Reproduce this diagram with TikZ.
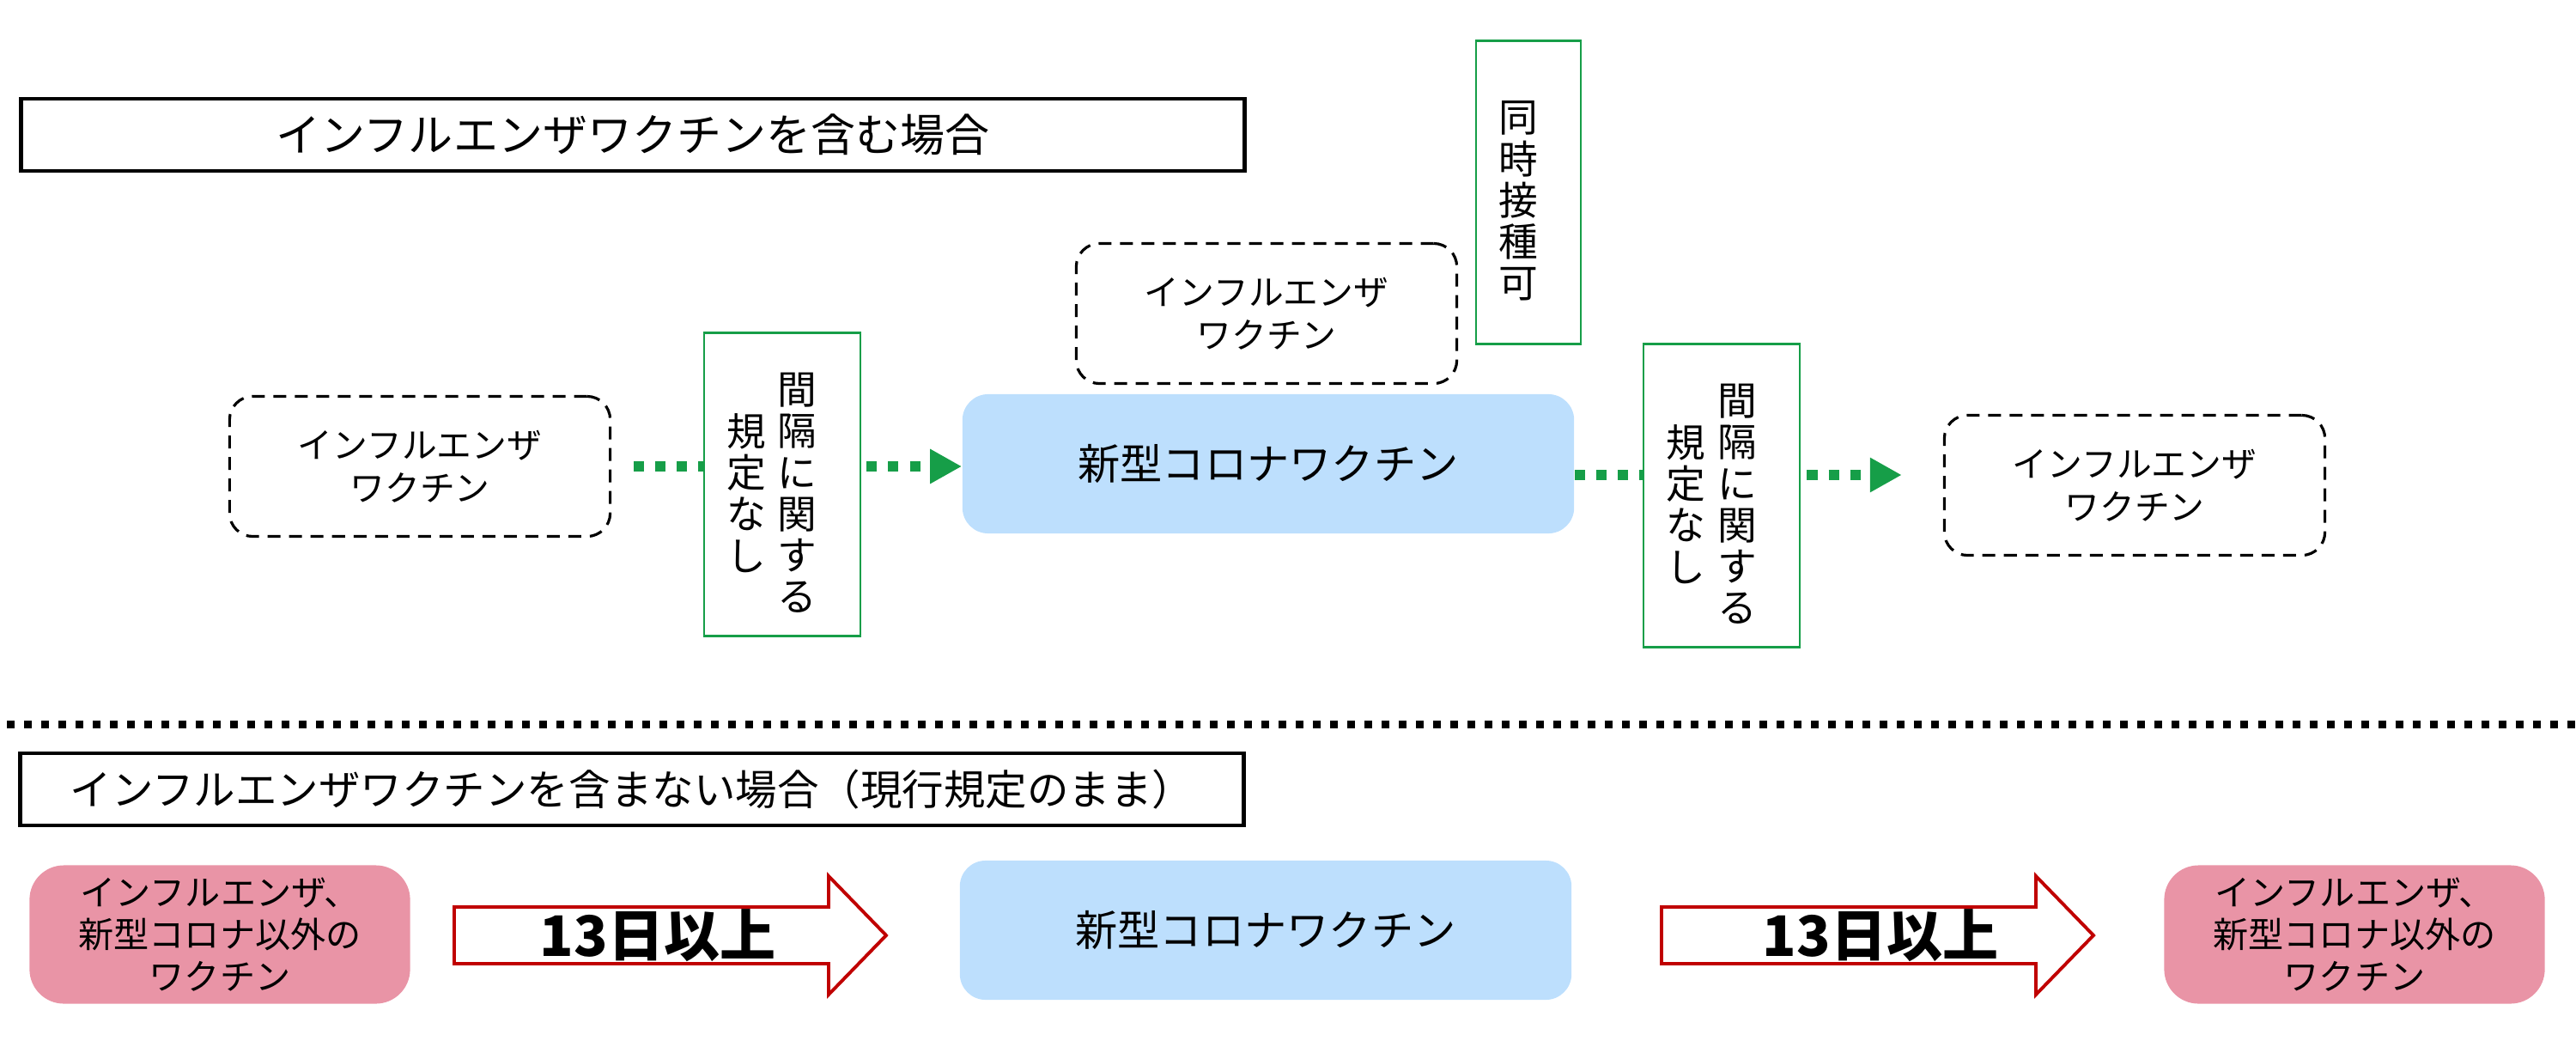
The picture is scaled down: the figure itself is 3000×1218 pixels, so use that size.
\documentclass[tikz,border=0pt]{standalone}
\usepackage{fontspec}
\setmainfont{Noto Sans CJK JP}
\usetikzlibrary{arrows.meta,calc}

\definecolor{kgreen}{RGB}{22,158,72}
\definecolor{kblue}{RGB}{189,223,253}
\definecolor{kpink}{RGB}{233,148,166}
\definecolor{kred}{RGB}{192,0,0}

\begin{document}
\begin{tikzpicture}[x=0.01cm,y=-0.01cm]
   \useasboundingbox (0,0) rectangle (3000,1218);
   \tikzstyle{heading}=[draw=black, line width=1.2pt, minimum width=14.24cm, minimum height=0.84cm, inner sep=0pt]
   \tikzstyle{flu}=[draw=black, line width=0.9pt, dash pattern=on 0.15cm off 0.10cm, rounded corners=0.27cm, minimum width=4.43cm, minimum height=1.63cm, align=center, font=\fontsize{11.6}{14.2}\selectfont]
   \tikzstyle{corona}=[fill=kblue, rounded corners=0.3cm, minimum width=7.12cm, minimum height=1.62cm, font=\fontsize{14}{16}\selectfont]
   \tikzstyle{gapbox}=[draw=kgreen, line width=0.8pt, minimum width=1.82cm, minimum height=3.53cm]
   \tikzstyle{tate}=[align=center, inner sep=0pt, font=\fontsize{13}{13.7}\selectfont]
   \tikzstyle{other}=[fill=kpink, rounded corners=0.4cm, minimum width=4.43cm, minimum height=1.61cm, align=center, font=\fontsize{11.7}{14}\selectfont]
   \tikzstyle{dotline}=[draw=kgreen, line width=0.12cm, dash pattern=on 0.12cm off 0.13cm]
   \tikzstyle{bigarrow}=[draw=kred, line width=1.1pt, fill=white]

   % upper half
   \node[heading] (with) at (737,157) {\fontsize{14.8}{18}\selectfont インフルエンザワクチンを含む場合};
   \foreach \n/\x/\y in {flu1/489/543, flu2/1475/365, flu3/2486/565} {
       \node[flu] (\n) at (\x,\y) {インフルエンザ\\ワクチン};
   }
   \node[corona] (corona1) at (1477,540) {新型コロナワクチン};
   \node[gapbox] (gap1) at (911,564) {};
   \node[tate] (gap1r) at ($(gap1.center)+(17,10)$) {間\\隔\\に\\関\\す\\る};
   \node[tate] (gap1l) at ($(gap1.center)+(-42,10)$) {規\\定\\な\\し};
   \node[gapbox] (gap2) at (2005,577) {};
   \node[tate] (gap2r) at ($(gap2.center)+(18,10)$) {間\\隔\\に\\関\\す\\る};
   \node[tate] (gap2l) at ($(gap2.center)+(-42,10)$) {規\\定\\な\\し};
   \node[gapbox, minimum width=1.22cm, minimum height=3.52cm] (simul) at (1780,224) {};
   \node[tate] (simultext) at ($(simul.center)+(-12,10)$) {同\\時\\接\\種\\可};

   \coordinate (rowB) at (0,553);
   \draw[dotline, shorten <=0.26cm] (flu1.east) -- (gap1.west |- flu1.east);
   \draw[dotline, shorten <=0.06cm, -{Triangle[length=0.37cm,width=0.38cm]}] (gap1.east |- flu1.east) -- (corona1.west |- flu1.east);
   \draw[dotline] (corona1.east |- rowB) -- (gap2.west |- rowB);
   \draw[dotline, shorten <=0.07cm, shorten >=0.48cm, -{Triangle[length=0.37cm,width=0.38cm]}] (gap2.east |- rowB) -- (flu3.west |- rowB);

   % separator
   \draw[line width=0.09cm, dash pattern=on 0.09cm off 0.11cm] (8,843) -- (3000,843);

   % lower half
   \node[heading] (without) at (736,919) {\fontsize{13.8}{17}\selectfont インフルエンザワクチンを含まない場合（現行規定のまま）};
   \foreach \n/\x in {other1/256, other2/2742} {
       \node[other] (\n) at (\x,1088) {インフルエンザ、\\新型コロナ以外の\\ワクチン};
   }
   \node[corona] (corona2) at (1474,1083) {新型コロナワクチン};
   \foreach \x/\t/\n in {529/766/days1, 1935/2190/days2} {
       \draw[bigarrow] (\x,1056) -- ++(436,0) -- ++(0,-36) -- ++(67,69) -- ++(-67,69) -- ++(0,-36) -- (\x,1122) -- cycle;
       \node[font=\bfseries\fontsize{18.5}{20}\selectfont] (\n) at (\t,1089) {13日以上};
   }
\end{tikzpicture}
\end{document}
